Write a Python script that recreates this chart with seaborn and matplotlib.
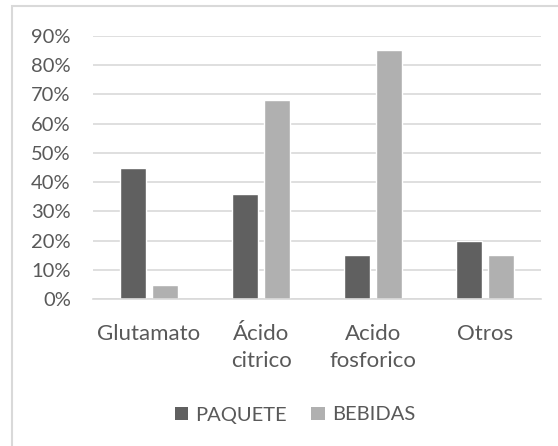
import matplotlib
matplotlib.use("Agg")
import matplotlib.pyplot as plt
import seaborn as sns
import pandas as pd
from matplotlib.patches import Rectangle, Patch
from matplotlib.ticker import PercentFormatter

categories = ["Glutamato", "Ácido\ncitrico", "Acido\nfosforico", "Otros"]
paquete = [0.45, 0.36, 0.15, 0.20]
bebidas = [0.05, 0.68, 0.85, 0.15]
series = ["PAQUETE", "BEBIDAS"]
yticks = [0, 0.1, 0.2, 0.3, 0.4, 0.5, 0.6, 0.7, 0.8, 0.9]

df = pd.DataFrame({
    "cat": categories * 2,
    "serie": [series[0]] * 4 + [series[1]] * 4,
    "val": paquete + bebidas,
})

sns.set_theme(style="white")
plt.rcParams["font.family"] = ["Lato", "DejaVu Sans"]

colors = {"PAQUETE": "#606060", "BEBIDAS": "#b0b0b0"}
text_color = "#595959"

fig = plt.figure(figsize=(5.58, 4.46), dpi=100)
ax = fig.add_axes([93 / 558, 1 - 299.3 / 446, (541 - 93) / 558, (299.3 - 35.7) / 446])

sns.barplot(data=df, x="cat", y="val", hue="serie", palette=colors, order=categories,
            hue_order=series, width=0.572, gap=0.19, ax=ax, legend=False, saturation=1)

ax.set_ylim(0, 0.9)
ax.set_xlim(-0.5, 3.5)
ax.set_yticks(yticks)
ax.yaxis.set_major_formatter(PercentFormatter(1.0, decimals=0))
ax.grid(axis="y", color="#d9d9d9", linewidth=1.2)
ax.set_axisbelow(True)
for s in ["top", "right", "left"]:
    ax.spines[s].set_visible(False)
ax.spines["bottom"].set_color("#d9d9d9")
ax.spines["bottom"].set_linewidth(1.2)
ax.set_xlabel("")
ax.set_ylabel("")
ax.tick_params(axis="y", length=0, pad=16, labelsize=14.5, labelcolor=text_color)
ax.tick_params(axis="x", length=0, pad=18, labelsize=16, labelcolor=text_color)
for lab in ax.get_xticklabels():
    lab.set_linespacing(1.4)

handles = [Patch(facecolor=colors[s], edgecolor="none", label=s) for s in series]
fig.legend(handles=handles, loc="center", bbox_to_anchor=(295 / 558, 1 - 415 / 446), ncol=2,
           frameon=False, fontsize=14.5, labelcolor=text_color, handlelength=0.68,
           handleheight=0.68, handletextpad=0.35, columnspacing=1.2)

fig.patches.append(Rectangle((12 / 558, -0.1), 1.2, 1.1 - 6 / 446, transform=fig.transFigure,
                             fill=False, edgecolor="#d9d9d9", linewidth=1.5))

fig.savefig("out.png", dpi=100)
